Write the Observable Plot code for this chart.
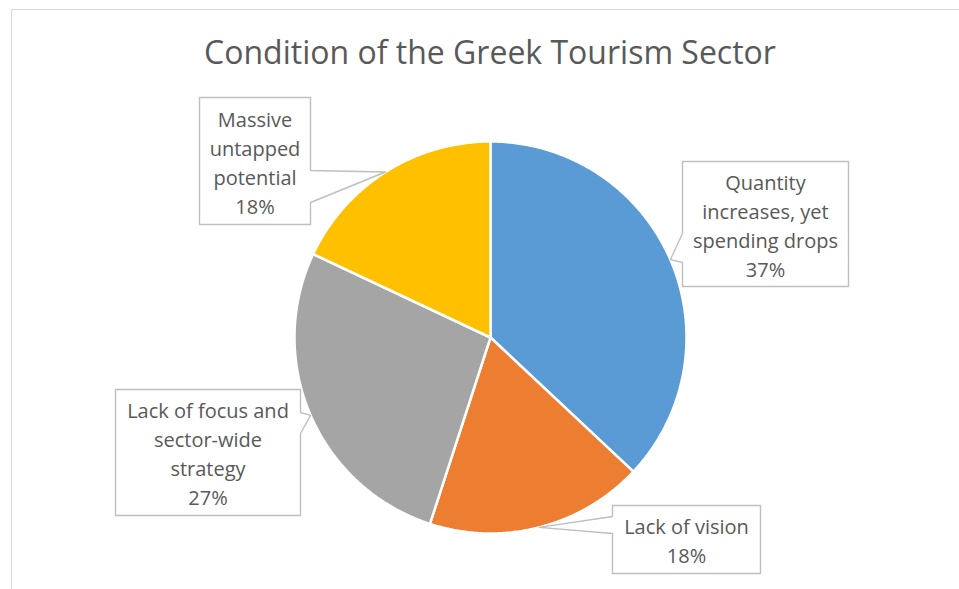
<!DOCTYPE html>
<html><head><meta charset="utf-8">
<script src="https://cdn.jsdelivr.net/npm/d3@7"></script>
<script src="https://cdn.jsdelivr.net/npm/@observablehq/plot@0.6"></script>
<style>
body{margin:0;background:#fff;}
#wrap{position:relative;width:959px;height:589px;overflow:hidden;font-family:"Open Sans",sans-serif;}
#frame{position:absolute;left:11px;top:9px;width:960px;height:600px;border-left:1.5px solid #d9d9d9;border-top:1.5px solid #d9d9d9;}
#title{position:absolute;left:0;width:980px;top:31px;text-align:center;font-size:32px;color:#595959;line-height:42px;}
#chart{position:absolute;left:0;top:90px;}
</style></head>
<body>
<div id="wrap"><div id="frame"></div><div id="title">Condition of the Greek Tourism Sector</div><div id="chart"></div></div>
<script>
// ---- data ----
const categories = ["Quantity increases, yet spending drops", "Lack of vision", "Lack of focus and sector-wide strategy", "Massive untapped potential"];
const labelLines = [["Quantity", "increases, yet", "spending drops"], ["Lack of vision"], ["Lack of focus and", "sector-wide", "strategy"], ["Massive", "untapped", "potential"]];
const shares = [37, 18, 27, 18];
const colors = ["#5B9BD5", "#ED7D31", "#A5A5A5", "#FFC000"];

// ---- layout ----
const W = 959, H = 499, CX = 490, CY = 247, R = 196;
const boxes = [
  {x1: 682, y1: 71, x2: 848, y2: 196, side: "left", n1: 143, n2: 172},
  {x1: 612, y1: 415, x2: 760, y2: 483, side: "left", n1: 426, n2: 443},
  {x1: 115, y1: 299, x2: 300, y2: 425, side: "right", n1: 322, n2: 343},
  {x1: 199, y1: 7, x2: 310, y2: 134, side: "right", n1: 80, n2: 112}
];

const arcs = d3.pie().sort(null).value(d => d)(shares);
const pt = a => [CX + R * Math.sin(a), CY - R * Math.cos(a)];

const slicePts = [];
arcs.forEach((a, i) => {
  const cat = categories[i];
  slicePts.push({cat, x: CX, y: CY});
  const n = Math.max(2, Math.ceil((a.endAngle - a.startAngle) / (Math.PI / 360)));
  for (let k = 0; k <= n; k++) {
    const t = a.startAngle + (a.endAngle - a.startAngle) * k / n;
    const [x, y] = pt(t);
    slicePts.push({cat, x, y});
  }
});

const boxPts = [];
boxes.forEach((b, i) => {
  const cat = categories[i];
  const [tx, ty] = pt((arcs[i].startAngle + arcs[i].endAngle) / 2);
  let p;
  if (b.side === "right") {
    p = [[b.x1, b.y1], [b.x2, b.y1], [b.x2, b.n1], [tx, ty], [b.x2, b.n2], [b.x2, b.y2], [b.x1, b.y2]];
  } else {
    p = [[b.x1, b.y1], [b.x2, b.y1], [b.x2, b.y2], [b.x1, b.y2], [b.x1, b.n2], [tx, ty], [b.x1, b.n1]];
  }
  p.forEach(([x, y]) => boxPts.push({cat, x, y}));
});

const labels = boxes.map((b, i) => ({
  x: (b.x1 + b.x2) / 2,
  y: (b.y1 + b.y2) / 2,
  text: labelLines[i].concat([shares[i] + "%"]).join("\n")
}));

const chart = Plot.plot({
  width: W, height: H, margin: 0,
  style: {fontFamily: "'Open Sans', sans-serif", background: "transparent"},
  x: {domain: [0, W], range: [0, W], axis: null},
  y: {domain: [0, H], range: [0, H], axis: null},
  color: {domain: categories, range: colors},
  marks: [
    Plot.line(slicePts, {x: "x", y: "y", z: "cat", fill: "cat", stroke: "white", strokeWidth: 2.5, curve: "linear-closed"}),
    Plot.line(boxPts, {x: "x", y: "y", z: "cat", fill: "white", stroke: "#BFBFBF", strokeWidth: 1.4, curve: "linear-closed"}),
    Plot.text(labels, {x: "x", y: "y", text: "text", fill: "#595959", fontSize: 20, lineHeight: 1.45, lineAnchor: "middle", textAnchor: "middle"})
  ]
});
document.getElementById("chart").appendChild(chart);
</script>
</body></html>
